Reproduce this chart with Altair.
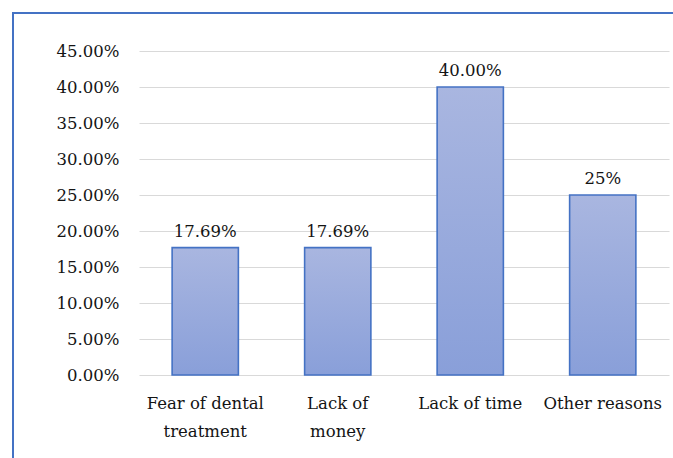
import altair as alt
import pandas as pd

# Reasons reported for not visiting the dentist
categories = ["Fear of dental treatment", "Lack of money", "Lack of time", "Other reasons"]
shares = [0.1769, 0.1769, 0.40, 0.25]
value_labels = ["17.69%", "17.69%", "40.00%", "25%"]
y_ticks = [0.00, 0.05, 0.10, 0.15, 0.20, 0.25, 0.30, 0.35, 0.40, 0.45]

df = pd.DataFrame({"reason": categories, "share": shares, "label": value_labels})

FONT = "DejaVu Serif"
FSIZE = 16.5
TEXT = "#141414"
FRAME = "#4472C4"

x_enc = alt.X(
    "reason:N",
    sort=None,
    scale=alt.Scale(paddingInner=0.5, paddingOuter=0.25),
    axis=alt.Axis(
        title=None,
        labelAngle=0,
        domain=False,
        ticks=False,
        grid=False,
        labelFont=FONT,
        labelFontSize=FSIZE,
        labelColor=TEXT,
        labelPadding=20,
        labelLineHeight=28,
        labelLimit=200,
        labelOverlap=False,
        labelExpr=(
            "datum.value == 'Fear of dental treatment' ? ['Fear of dental', 'treatment'] : "
            "datum.value == 'Lack of money' ? ['Lack of', 'money'] : datum.value"
        ),
    ),
)

y_enc = alt.Y(
    "share:Q",
    scale=alt.Scale(domain=[0, 0.45], nice=False),
    axis=alt.Axis(
        title=None,
        values=y_ticks,
        format=".2%",
        domain=False,
        ticks=False,
        grid=True,
        gridColor="#d9d9d9",
        gridWidth=1.2,
        labelFont=FONT,
        labelFontSize=FSIZE,
        labelColor=TEXT,
        labelPadding=20,
        labelOverlap=False,
    ),
)

bars = alt.Chart(df).mark_bar(
    color=alt.Gradient(
        gradient="linear",
        stops=[
            alt.GradientStop(color="#a9b6e0", offset=0),
            alt.GradientStop(color="#899fd9", offset=1),
        ],
        x1=0, x2=0, y1=0, y2=1,
    ),
    stroke=FRAME,
    strokeWidth=1.6,
).encode(x=x_enc, y=y_enc)

labels = alt.Chart(df).mark_text(
    font=FONT, fontSize=FSIZE, color=TEXT, baseline="middle", dy=-16
).encode(x=x_enc, y=y_enc, text="label:N")

# Outer chart frame (left and top edges)
frame_left = alt.Chart(df).mark_rule(color=FRAME, strokeWidth=2).encode(
    x=alt.value(-126), y=alt.value(-38), y2=alt.value(440)
)
frame_top = alt.Chart(df).mark_rule(color=FRAME, strokeWidth=2).encode(
    x=alt.value(-127), x2=alt.value(620), y=alt.value(-38)
)

chart = (
    alt.layer(bars, labels, frame_left, frame_top)
    .properties(
        width=530,
        height=324,
        autosize=alt.AutoSizeParams(type="none"),
        padding={"left": 139, "top": 51, "right": 4, "bottom": 83},
        background="white",
    )
    .configure_axis(labelFont=FONT, labelFontSize=FSIZE, labelColor=TEXT)
    .configure_view(stroke=None)
)

chart.save("out.html", embed_options={"renderer": "svg", "actions": False})
